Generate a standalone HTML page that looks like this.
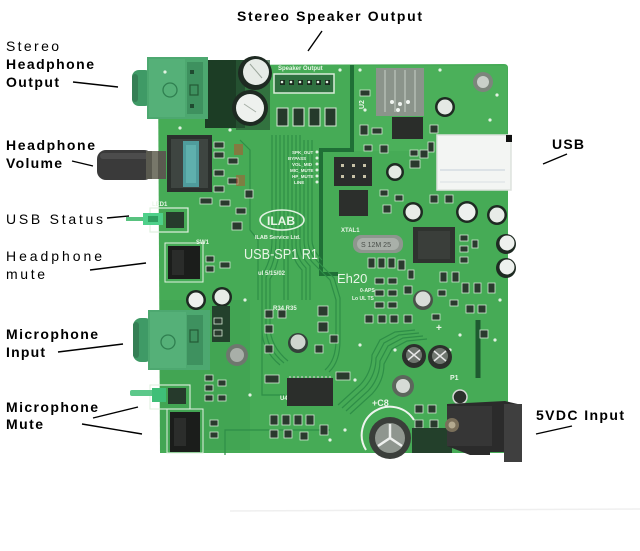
<!DOCTYPE html>
<html><head><meta charset="utf-8"><style>
html,body{margin:0;padding:0;background:#fff;}
svg{display:block;}
text{font-family:"Liberation Sans",Arial,sans-serif;}
.lb{font-size:14px;fill:#000;}
.b{font-weight:bold;}
.ss{font-family:"Liberation Sans",Arial,sans-serif;fill:#e8f5e6;font-weight:bold;}
</style></head><body>
<svg width="640" height="551" viewBox="0 0 640 551" xmlns="http://www.w3.org/2000/svg">
<rect width="640" height="551" fill="#fff"/>
<line x1="230" y1="511" x2="640" y2="509" stroke="#efefef" stroke-width="1.5"/>

<!-- BOARD -->
<path d="M158,65 L504,64 Q508,64 508,68 L508,453 L160,453 Z" fill="#46ab56"/>
<rect x="352" y="66" width="155" height="85" fill="#4fb45e" opacity="0.6"/>
<rect x="160" y="300" width="90" height="150" fill="#3e9f50" opacity="0.5"/>

<!-- shield border lines -->
<path d="M352,65 L352,150 L321,150 L321,274 L338,274" fill="none" stroke="#1f6f36" stroke-width="4"/>
<path d="M478,320 L478,378" stroke="#1e5a30" stroke-width="5"/>

<!-- traces -->
<g fill="none" stroke="#2e8e47" stroke-width="1.2">
<path d="M272,135 L272,240 Q272,260 262,275 L262,330 Q262,350 280,365"/>
<path d="M276,135 L276,240 Q276,262 266,277 L266,328 Q266,348 284,363"/>
<path d="M280,135 L280,240 Q280,264 270,279 L270,326 Q270,346 288,361"/>
<path d="M284,135 L284,245 L284,300"/>
<path d="M288,135 L288,245 L288,300"/>
<path d="M292,135 L292,245 Q292,260 302,270 L302,300"/>
<path d="M296,135 L296,245 Q296,258 306,268 L306,300"/>
<path d="M300,135 L300,245 Q300,256 310,266 L310,300"/>
<path d="M304,140 L304,240 Q304,254 314,264 L330,280 L336,300 L336,340 Q336,360 325,370"/>
<path d="M308,140 L308,240 Q308,252 318,262 L334,278 L340,298 L340,340 Q340,362 329,372"/>
<path d="M312,140 L312,240 Q312,250 322,260"/>
<path d="M338,405 L360,385 Q372,372 372,355 L380,340 L395,332 L415,330"/>
<path d="M342,408 L364,388 Q376,375 376,358 L384,343 L399,335 L419,333"/>
<path d="M346,411 L368,391 Q380,378 380,361 L388,346 L403,338 L423,336"/>
<path d="M350,414 L372,394 Q384,381 384,364 L392,349 L407,341 L427,339"/>
<path d="M262,330 L262,395 L285,395"/>
<path d="M240,140 L250,150 L250,230 L258,240 L258,300"/>
<path d="M225,455 L225,430 L330,430"/>
</g>

<!-- dark shadow region near top caps -->
<rect x="205" y="60" width="40" height="68" fill="#1c3d25"/>
<rect x="236" y="60" width="34" height="70" fill="#2a5a36" opacity="0.7"/>

<!-- HEADPHONE JACK -->
<rect x="132" y="70" width="20" height="36" rx="7" fill="#3f9a66"/>
<rect x="132" y="74" width="6" height="28" rx="3" fill="#357f55"/>
<rect x="147" y="57" width="61" height="62" fill="#4da870"/>
<rect x="149" y="59" width="36" height="58" fill="#55b078"/>
<circle cx="170" cy="90" r="7" fill="none" stroke="#2f7f50" stroke-width="1.3"/>
<rect x="187" y="62" width="16" height="52" fill="#3e915f"/>
<rect x="190" y="70" width="4" height="4" fill="#1f4a30"/>
<rect x="190" y="85" width="8" height="10" fill="none" stroke="#245a36" stroke-width="1.2"/>
<rect x="190" y="104" width="4" height="4" fill="#1f4a30"/>

<!-- top caps -->
<circle cx="255" cy="73" r="17" fill="#1e2a22"/>
<circle cx="256" cy="72" r="13" fill="#e6ebe6"/>
<path d="M250,64 L262,78" stroke="#9aa59a" stroke-width="1"/>
<circle cx="250" cy="108" r="18" fill="#1e2a22"/>
<circle cx="250" cy="108" r="14" fill="#eef1ee"/>
<path d="M244,104 L256,112" stroke="#a5aea5" stroke-width="1"/>

<!-- speaker header -->
<text x="278" y="70" class="ss" font-size="6">Speaker Output</text>
<rect x="274" y="74" width="60" height="19" fill="#2f7040" stroke="#d8ecd8" stroke-width="1.5"/>
<g fill="#1a2a1e"><rect x="280" y="80" width="5" height="5"/><rect x="289" y="80" width="5" height="5"/><rect x="298" y="80" width="5" height="5"/><rect x="307" y="80" width="5" height="5"/><rect x="316" y="80" width="5" height="5"/><rect x="325" y="80" width="5" height="5"/></g>
<g fill="#e0f0e0"><circle cx="282" cy="82" r="1.3"/><circle cx="291" cy="82" r="1.3"/><circle cx="300" cy="82" r="1.3"/><circle cx="309" cy="82" r="1.3"/><circle cx="318" cy="82" r="1.3"/><circle cx="327" cy="82" r="1.3"/></g>
<g fill="#253a2b" stroke="#d6ead6" stroke-width="1">
<rect x="277" y="108" width="11" height="18"/><rect x="293" y="108" width="11" height="18"/><rect x="309" y="108" width="11" height="18"/><rect x="325" y="108" width="11" height="18"/>
</g>

<!-- top-right U2 heatsink -->
<rect x="376" y="68" width="48" height="48" fill="#8b948b"/>
<g stroke="#a9b2a9" stroke-width="2"><line x1="385" y1="70" x2="385" y2="112"/><line x1="395" y1="70" x2="395" y2="112"/><line x1="405" y1="70" x2="405" y2="112"/><line x1="415" y1="70" x2="415" y2="112"/></g>
<g fill="#f0f4f0"><circle cx="392" cy="102" r="2"/><circle cx="400" cy="104" r="2"/><circle cx="408" cy="102" r="2"/><circle cx="398" cy="110" r="2"/></g>
<rect x="392" y="117" width="31" height="22" fill="#2a2d2a"/>
<circle cx="483" cy="82" r="10" fill="#7c857c"/>
<circle cx="483" cy="82" r="6" fill="#c9cfc9"/>
<circle cx="445" cy="107" r="10" fill="#1e2a22"/>
<circle cx="445" cy="107" r="7.5" fill="#e4e9e4"/>
<text x="357" y="108" class="ss" font-size="7" transform="rotate(-90 361 105)">U2</text>

<!-- USB connector -->
<rect x="437" y="135" width="74" height="55" fill="#f3f5f3"/>
<rect x="437" y="135" width="74" height="55" fill="none" stroke="#dde2dd" stroke-width="1.5"/>
<line x1="440" y1="170" x2="505" y2="170" stroke="#c5d0d8" stroke-width="1"/>
<line x1="440" y1="182" x2="505" y2="182" stroke="#d8dfe3" stroke-width="1"/>
<rect x="506" y="135" width="6" height="7" fill="#111"/>

<!-- potentiometer + knob -->
<rect x="97" y="150" width="56" height="30" rx="9" fill="#3a3a3a"/>
<rect x="100" y="153" width="50" height="6" rx="3" fill="#4c4c4c"/>
<rect x="146" y="151" width="20" height="28" fill="#5a5a50"/>
<rect x="152" y="151" width="6" height="28" fill="#77776a"/>
<rect x="167" y="135" width="45" height="57" fill="#2b302d"/>
<rect x="171" y="139" width="37" height="49" fill="#3e4541"/>
<rect x="183" y="141" width="16" height="46" fill="#4f9c9c"/>
<rect x="186" y="145" width="10" height="38" fill="#5fb0ad"/>

<!-- components right of pot -->
<g fill="#2a3a2e" stroke="#d4e8d4" stroke-width="0.8">
<rect x="214" y="142" width="10" height="6"/><rect x="214" y="152" width="10" height="6"/><rect x="228" y="158" width="10" height="6"/><rect x="214" y="170" width="10" height="6"/><rect x="228" y="178" width="10" height="6"/><rect x="214" y="186" width="10" height="6"/>
<rect x="200" y="198" width="12" height="6"/><rect x="220" y="200" width="10" height="6"/><rect x="236" y="208" width="10" height="6"/>
<rect x="232" y="222" width="10" height="8"/><rect x="245" y="190" width="8" height="8"/>
</g>
<rect x="234" y="144" width="9" height="11" fill="#c04a2a" opacity="0.5"/>
<rect x="236" y="175" width="9" height="11" fill="#c04a2a" opacity="0.45"/>

<!-- silkscreen labels column -->
<g class="ss" font-size="4.5">
<text x="292" y="154">SPK_OUT</text><text x="288" y="160">BYPASS</text><text x="292" y="166">VOL_MID</text><text x="290" y="172">MIC_MUTE</text><text x="292" y="178">HP_MUTE</text><text x="294" y="184">LINE</text>
</g>
<g fill="#e0f0e0"><circle cx="317" cy="152" r="1.5"/><circle cx="317" cy="158" r="1.5"/><circle cx="317" cy="164" r="1.5"/><circle cx="317" cy="170" r="1.5"/><circle cx="317" cy="176" r="1.5"/><circle cx="317" cy="182" r="1.5"/></g>

<!-- 2x3 header + IC -->
<rect x="334" y="157" width="38" height="29" fill="#2b2d2b"/>
<g fill="#c9c2a8"><rect x="341" y="164" width="3" height="3"/><rect x="352" y="164" width="3" height="3"/><rect x="363" y="164" width="3" height="3"/><rect x="341" y="175" width="3" height="3"/><rect x="352" y="175" width="3" height="3"/><rect x="363" y="175" width="3" height="3"/></g>
<rect x="339" y="190" width="29" height="26" fill="#2c2f2c"/>
<circle cx="395" cy="172" r="9" fill="#1e2a22"/><circle cx="395" cy="172" r="6.5" fill="#e4e9e4"/>

<!-- USB status LED -->
<rect x="150" y="208" width="38" height="24" fill="none" stroke="#e0f0e0" stroke-width="1.2"/>
<rect x="126" y="217" width="26" height="4" fill="#58c27f"/>
<rect x="143" y="213" width="20" height="12" fill="#4fd08a"/>
<rect x="148" y="216" width="10" height="6" fill="#2fa060"/>
<rect x="166" y="212" width="18" height="16" fill="#263a2c"/>
<text x="152" y="206" class="ss" font-size="6">LED1</text>

<!-- ILAB logo & text -->
<ellipse cx="282" cy="220" rx="22" ry="10" fill="none" stroke="#e2f2e2" stroke-width="1.6"/>
<text x="267" y="225" class="ss" font-size="12">ILAB</text>
<text x="255" y="239" class="ss" font-size="5.5">ILAB Service Ltd.</text>
<text x="244" y="259" class="ss" font-size="15" textLength="74" lengthAdjust="spacingAndGlyphs" style="font-weight:normal">USB-SP1 R1</text>
<text x="258" y="275" class="ss" font-size="6">ul  5/15/02</text>
<text x="337" y="283" class="ss" font-size="13" style="font-weight:normal">Eh20</text>
<text x="360" y="292" class="ss" font-size="5">0-APS</text>
<text x="352" y="300" class="ss" font-size="5">Lo UL TS</text>
<text x="341" y="232" class="ss" font-size="6">XTAL1</text>

<!-- crystal -->
<rect x="353" y="235" width="50" height="18" rx="8" fill="#8e968e"/>
<rect x="357" y="238" width="42" height="12" rx="6" fill="#a9b0a9"/>
<text x="361" y="247" font-size="7" fill="#4a4f4a" style="font-family:'Liberation Sans',sans-serif">S 12M 25</text>

<!-- QFP -->
<rect x="413" y="227" width="42" height="36" fill="#2f332f"/>
<rect x="418" y="231" width="32" height="28" fill="#3a3e3a"/>

<!-- right caps -->
<circle cx="413" cy="212" r="10" fill="#1e2a22"/><circle cx="413" cy="212" r="7.5" fill="#e8ece8"/>
<circle cx="467" cy="212" r="11" fill="#1e2a22"/><circle cx="467" cy="212" r="8.5" fill="#eef1ee"/>
<circle cx="497" cy="215" r="10" fill="#1e2a22"/><circle cx="497" cy="215" r="7.5" fill="#e8ece8"/>
<circle cx="506" cy="244" r="10" fill="#1e2a22"/><circle cx="507" cy="243" r="7.5" fill="#eef1ee"/>
<circle cx="506" cy="268" r="10" fill="#1e2a22"/><circle cx="507" cy="267" r="7.5" fill="#eef1ee"/>
<circle cx="423" cy="300" r="10" fill="#4a524a"/><circle cx="423" cy="299" r="7.5" fill="#d8ddd8"/>

<!-- SMD clusters right area -->
<g fill="#2a3a2e" stroke="#d4e8d4" stroke-width="0.8">
<rect x="368" y="258" width="7" height="10"/><rect x="378" y="258" width="7" height="10"/><rect x="388" y="258" width="7" height="10"/><rect x="398" y="260" width="7" height="10"/>
<rect x="375" y="278" width="9" height="6"/><rect x="388" y="278" width="9" height="6"/><rect x="375" y="290" width="9" height="6"/><rect x="388" y="290" width="9" height="6"/><rect x="375" y="302" width="9" height="6"/><rect x="388" y="302" width="9" height="6"/>
<rect x="408" y="270" width="6" height="9"/><rect x="440" y="272" width="7" height="10"/><rect x="452" y="272" width="7" height="10"/><rect x="462" y="283" width="7" height="10"/><rect x="474" y="283" width="7" height="10"/><rect x="488" y="283" width="7" height="10"/>
<rect x="438" y="290" width="8" height="6"/><rect x="450" y="300" width="8" height="6"/><rect x="466" y="305" width="8" height="8"/><rect x="478" y="305" width="8" height="8"/>
<rect x="460" y="235" width="8" height="6"/><rect x="460" y="246" width="8" height="6"/><rect x="460" y="257" width="8" height="6"/><rect x="472" y="240" width="6" height="8"/>
<rect x="365" y="315" width="8" height="8"/><rect x="378" y="315" width="8" height="8"/><rect x="390" y="315" width="8" height="8"/><rect x="404" y="315" width="8" height="8"/>
<rect x="404" y="286" width="8" height="8"/><rect x="432" y="314" width="8" height="6"/>
<rect x="360" y="90" width="10" height="6"/><rect x="360" y="125" width="8" height="10"/><rect x="372" y="128" width="10" height="6"/><rect x="430" y="125" width="8" height="8"/><rect x="428" y="142" width="6" height="10"/><rect x="410" y="150" width="8" height="6"/><rect x="410" y="160" width="10" height="8"/><rect x="380" y="190" width="8" height="6"/><rect x="395" y="195" width="8" height="6"/><rect x="430" y="195" width="8" height="8"/><rect x="445" y="195" width="8" height="8"/>
<rect x="380" y="145" width="8" height="8"/><rect x="364" y="145" width="8" height="6"/>
<rect x="420" y="150" width="8" height="8"/><rect x="383" y="205" width="8" height="8"/><rect x="480" y="330" width="8" height="8"/>
</g>
<g fill="#e2f2e2"><circle cx="497" cy="95" r="1.6"/><circle cx="490" cy="120" r="1.6"/><circle cx="500" cy="300" r="1.6"/><circle cx="495" cy="340" r="1.6"/><circle cx="460" cy="335" r="1.6"/><circle cx="450" cy="350" r="1.6"/><circle cx="395" cy="350" r="1.6"/><circle cx="360" cy="345" r="1.6"/><circle cx="355" cy="380" r="1.6"/><circle cx="345" cy="430" r="1.6"/><circle cx="330" cy="440" r="1.6"/><circle cx="245" cy="300" r="1.6"/><circle cx="250" cy="395" r="1.6"/><circle cx="165" cy="72" r="1.6"/><circle cx="340" cy="70" r="1.6"/><circle cx="360" cy="70" r="1.6"/><circle cx="440" cy="70" r="1.6"/><circle cx="365" cy="110" r="1.6"/><circle cx="230" cy="130" r="1.6"/><circle cx="180" cy="128" r="1.6"/></g>

<!-- SW1 -->
<rect x="165" y="243" width="38" height="39" fill="none" stroke="#e0f0e0" stroke-width="1"/>
<rect x="168" y="246" width="32" height="33" fill="#1b1d1b"/>
<rect x="172" y="250" width="12" height="25" fill="#2a2c2a"/>
<text x="196" y="244" class="ss" font-size="6">SW1</text>
<g fill="#2a3a2e" stroke="#d4e8d4" stroke-width="0.8"><rect x="206" y="256" width="8" height="6"/><rect x="206" y="266" width="8" height="6"/><rect x="220" y="262" width="10" height="6"/></g>

<circle cx="196" cy="300" r="10" fill="#1e2a22"/><circle cx="196" cy="300" r="7.5" fill="#eef1ee"/>
<circle cx="222" cy="297" r="10" fill="#1e2a22"/><circle cx="222" cy="297" r="7.5" fill="#e6ebe6"/>

<!-- mic jack -->
<rect x="133" y="318" width="20" height="44" rx="8" fill="#3f9a66"/>
<rect x="133" y="322" width="6" height="36" rx="3" fill="#357f55"/>
<rect x="148" y="310" width="62" height="60" fill="#4da870"/>
<rect x="150" y="312" width="36" height="56" fill="#55b078"/>
<circle cx="168" cy="342" r="7" fill="none" stroke="#2f7f50" stroke-width="1.3"/>
<rect x="187" y="315" width="16" height="50" fill="#3e915f"/>
<rect x="190" y="330" width="8" height="12" fill="none" stroke="#245a36" stroke-width="1.2"/>
<rect x="212" y="306" width="18" height="36" fill="#23412c"/>
<g fill="#2a3a2e" stroke="#d4e8d4" stroke-width="0.8"><rect x="214" y="318" width="8" height="6"/><rect x="214" y="330" width="8" height="6"/></g>

<!-- mounting hole left -->
<circle cx="237" cy="355" r="11" fill="#6e776e"/>
<circle cx="237" cy="355" r="7" fill="#a8afa8"/>

<!-- center cap -->
<circle cx="298" cy="343" r="10" fill="#34403a"/><circle cx="298" cy="342" r="7.5" fill="#cfd5cf"/>
<g fill="#2a3a2e" stroke="#d4e8d4" stroke-width="0.8">
<rect x="265" y="310" width="8" height="8"/><rect x="278" y="310" width="8" height="8"/><rect x="265" y="325" width="8" height="8"/><rect x="318" y="306" width="10" height="10"/><rect x="318" y="322" width="10" height="10"/><rect x="330" y="335" width="8" height="8"/><rect x="265" y="345" width="8" height="8"/><rect x="315" y="345" width="8" height="8"/>
<rect x="265" y="375" width="14" height="8"/><rect x="336" y="372" width="14" height="8"/>
<rect x="270" y="415" width="8" height="10"/><rect x="282" y="415" width="8" height="10"/><rect x="294" y="415" width="8" height="10"/><rect x="306" y="415" width="8" height="10"/><rect x="270" y="430" width="8" height="8"/><rect x="284" y="430" width="8" height="8"/><rect x="300" y="432" width="8" height="8"/><rect x="320" y="425" width="8" height="10"/>
<rect x="205" y="375" width="8" height="6"/><rect x="205" y="385" width="8" height="6"/><rect x="205" y="395" width="8" height="6"/><rect x="218" y="380" width="8" height="6"/><rect x="218" y="395" width="8" height="6"/>
<rect x="210" y="420" width="8" height="6"/><rect x="210" y="432" width="8" height="6"/>
</g>
<text x="273" y="310" class="ss" font-size="6">R34 R35</text>
<text x="280" y="400" class="ss" font-size="6">U4</text>

<!-- U4 -->
<rect x="287" y="378" width="46" height="28" fill="#2b2e2b"/>
<g stroke="#c8ccc8" stroke-width="1.2"><line x1="290" y1="376" x2="290" y2="378"/><line x1="294" y1="376" x2="294" y2="378"/><line x1="298" y1="376" x2="298" y2="378"/><line x1="302" y1="376" x2="302" y2="378"/><line x1="306" y1="376" x2="306" y2="378"/><line x1="310" y1="376" x2="310" y2="378"/><line x1="314" y1="376" x2="314" y2="378"/><line x1="318" y1="376" x2="318" y2="378"/><line x1="322" y1="376" x2="322" y2="378"/><line x1="326" y1="376" x2="326" y2="378"/><line x1="330" y1="376" x2="330" y2="378"/></g>

<!-- mic LED -->
<rect x="150" y="385" width="40" height="24" fill="none" stroke="#e0f0e0" stroke-width="1.1"/>
<rect x="130" y="390" width="24" height="6" rx="2" fill="#5cc88a"/>
<rect x="152" y="388" width="14" height="14" fill="#3fbf78"/>
<rect x="168" y="388" width="18" height="16" fill="#263a2c"/>

<!-- mic mute switch -->
<rect x="167" y="409" width="36" height="44" fill="none" stroke="#e0f0e0" stroke-width="1"/>
<rect x="170" y="412" width="30" height="40" fill="#1b1d1b"/>
<rect x="174" y="418" width="12" height="28" fill="#2b2d2b"/>

<!-- lower right caps -->
<circle cx="414" cy="356" r="12" fill="#2c302c"/>
<circle cx="414" cy="355" r="8" fill="#6f766f"/>
<path d="M408,350 L420,360 M420,350 L408,360" stroke="#e6e6e6" stroke-width="1.5"/>
<circle cx="440" cy="357" r="12" fill="#2c302c"/>
<circle cx="440" cy="356" r="8" fill="#6f766f"/>
<path d="M434,351 L446,361 M446,351 L434,361" stroke="#e6e6e6" stroke-width="1.5"/>
<text x="436" y="331" class="ss" font-size="10">+</text>

<!-- mounting hole bottom -->
<circle cx="403" cy="386" r="11" fill="#5c665c"/>
<circle cx="403" cy="386" r="7" fill="#d6dbd6"/>

<!-- big cap C8 -->
<path d="M366,450 A26,26 0 0,1 414,420" fill="none" stroke="#eef4ee" stroke-width="2"/>
<text x="372" y="406" class="ss" font-size="9">+C8</text>
<circle cx="390" cy="438" r="21" fill="#3a3e3a"/>
<circle cx="390" cy="438" r="15" fill="#8f968f"/>
<path d="M390,438 L390,424 M390,438 L378,446 M390,438 L402,446" stroke="#eef0ee" stroke-width="2.5"/>
<g fill="#2a3a2e" stroke="#d4e8d4" stroke-width="0.8"><rect x="415" y="405" width="8" height="8"/><rect x="428" y="405" width="8" height="8"/><rect x="415" y="420" width="8" height="8"/><rect x="430" y="420" width="8" height="8"/></g>
<rect x="412" y="428" width="40" height="25" fill="#23402b"/>

<!-- DC jack -->
<text x="450" y="380" class="ss" font-size="7">P1</text>
<circle cx="460" cy="397" r="7" fill="#2c302c" stroke="#d4d8d4" stroke-width="1.5"/>
<path d="M447,404 L505,401 L522,405 L522,462 L504,462 L504,452 L490,452 L490,455 L470,455 L447,446 Z" fill="#2b2b2b"/>
<rect x="447" y="406" width="45" height="40" fill="#363636"/>
<rect x="504" y="404" width="18" height="58" fill="#3f3f3f"/>
<circle cx="452" cy="425" r="7" fill="#7a6f5a"/>
<circle cx="452" cy="425" r="3.5" fill="#b3a98f"/>

<!-- LABELS -->
<text x="237" y="21" class="lb b" textLength="185" lengthAdjust="spacing">Stereo Speaker Output</text>
<text x="6" y="51" class="lb" textLength="53" lengthAdjust="spacing">Stereo</text>
<text x="6" y="69" class="lb b" textLength="88" lengthAdjust="spacing">Headphone</text>
<text x="6" y="87" class="lb b" textLength="53" lengthAdjust="spacing">Output</text>
<text x="6" y="150" class="lb b" textLength="89" lengthAdjust="spacing">Headphone</text>
<text x="6" y="168" class="lb b" textLength="56" lengthAdjust="spacing">Volume</text>
<text x="6" y="224" class="lb" textLength="97" lengthAdjust="spacing">USB Status</text>
<text x="6" y="261" class="lb" textLength="96" lengthAdjust="spacing">Headphone</text>
<text x="6" y="279" class="lb" textLength="39" lengthAdjust="spacing">mute</text>
<text x="6" y="339" class="lb b" textLength="92" lengthAdjust="spacing">Microphone</text>
<text x="6" y="357" class="lb b" textLength="39" lengthAdjust="spacing">Input</text>
<text x="6" y="412" class="lb b" textLength="92" lengthAdjust="spacing">Microphone</text>
<text x="6" y="429" class="lb b" textLength="37" lengthAdjust="spacing">Mute</text>
<text x="552" y="149" class="lb b" textLength="32" lengthAdjust="spacing">USB</text>
<text x="536" y="420" class="lb b" textLength="88" lengthAdjust="spacing">5VDC Input</text>

<!-- LEADER LINES -->
<g stroke="#000" stroke-width="1.4" fill="none">
<line x1="308" y1="51" x2="322" y2="31"/>
<line x1="73" y1="82" x2="118" y2="87"/>
<line x1="72" y1="161" x2="93" y2="166"/>
<line x1="107" y1="218" x2="129" y2="216"/>
<line x1="90" y1="270" x2="146" y2="263"/>
<line x1="58" y1="352" x2="123" y2="344"/>
<line x1="93" y1="418" x2="138" y2="407"/>
<line x1="82" y1="424" x2="142" y2="434"/>
<line x1="543" y1="164" x2="567" y2="154"/>
<line x1="536" y1="434" x2="572" y2="426"/>
</g>
</svg>
</body></html>
